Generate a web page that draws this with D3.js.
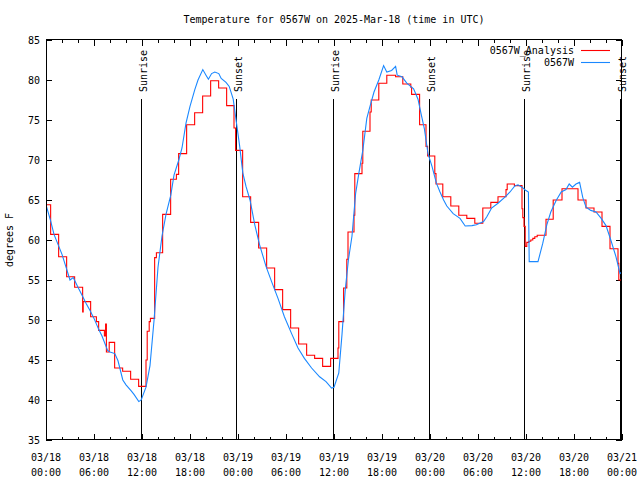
<!DOCTYPE html>
<html>
<head>
<meta charset="utf-8">
<script src="https://cdn.jsdelivr.net/npm/d3@7"></script>
<style>
  html, body { margin: 0; padding: 0; background: #fff; }
  svg { display: block; }
  text { font-family: "DejaVu Sans Mono", "Liberation Mono", monospace; font-size: 10px; fill: #000; }
</style>
</head>
<body>
<script>
// ---- DATA (time = hours since 2025-03-18 00:00 UTC) ----
const titleText = "Temperature for 0567W on 2025-Mar-18 (time in UTC)";
const yLabel = "degrees F";
const seriesNames = ["0567W_Analysis", "0567W"];

const xTickDates = ["03/18","03/18","03/18","03/18","03/19","03/19","03/19","03/19","03/20","03/20","03/20","03/20","03/21"];
const xTickTimes = ["00:00","06:00","12:00","18:00","00:00","06:00","12:00","18:00","00:00","06:00","12:00","18:00","00:00"];
const xTickHours = [0,6,12,18,24,30,36,42,48,54,60,66,72];
const xMinorHours = d3.range(0, 73, 2);
const yTicks = [35,40,45,50,55,60,65,70,75,80,85];

const sunTimes = [11.93, 23.8, 35.83, 47.83, 59.7, 71.8];
const sunLabels = ["Sunrise","Sunset","Sunrise","Sunset","Sunrise","Sunset"];

// Analysis (stepped)
const redT = [0,0.58,1.58,2.58,3.58,4.58,4.65,5.58,6.3,6.58,7.3,7.45,7.55,7.9,8.58,9.58,10.58,11.58,12.5,12.65,12.9,13.05,13.58,13.8,14.58,15.58,16.3,16.58,17.58,18.58,19.58,20.58,21.58,22.58,23.5,23.7,24.58,25.58,26.58,27.58,28.58,29.58,30.58,31.58,32.58,33.58,34.58,35.58,36.5,36.6,37.2,37.6,37.75,38.5,38.6,39.5,39.6,40.5,40.65,41.6,42.6,43.7,44.6,45.6,45.7,46.7,47.5,47.7,48.6,48.75,49.6,50.6,51.6,52.6,53.6,54.6,55.6,56.5,57.5,57.65,58.55,59.5,59.6,59.75,59.9,60.1,60.35,60.6,60.85,61.1,61.4,62.5,63.4,64.5,66.5,67.5,68.5,69.5,70.5,71.5,71.6,72];
const redV = [64.4,60.7,57.9,55.4,54.1,51.0,52.3,50.4,49.8,48.7,48.0,49.5,46.0,47.2,44.0,43.6,42.6,41.7,45.0,48.6,49.8,50.2,57.8,58.4,63.2,67.6,68.2,70.8,74.4,75.9,78.0,79.9,79.0,76.8,74.0,71.2,65.4,62.2,59.0,56.5,53.8,51.3,49.0,47.0,45.6,45.2,44.2,45.2,46.5,49.8,54.0,57.6,61.0,63.1,68.3,69.6,73.6,76.0,77.5,79.6,80.6,80.4,79.5,79.1,78.2,74.4,71.7,70.5,68.3,67.0,65.4,64.25,63.1,62.7,62.1,64.0,64.7,65.4,66.3,67.0,66.8,63.9,62.8,61.7,59.2,59.7,59.85,60.0,60.2,60.4,60.6,62.6,65.0,66.4,65.0,64.0,63.5,61.7,58.9,57.1,55.0,55.0];

// Observations
const blueT = [0,0.58,1.0,1.4,2.0,2.5,3.0,3.4,3.6,4.0,4.6,5.0,5.5,6.0,6.6,7.0,7.7,8.0,8.6,9.0,9.6,10.0,10.6,11.0,11.6,11.9,12.5,13.0,13.5,14.0,14.5,15.0,15.6,16.0,16.6,17.0,17.5,18.0,18.6,19.0,19.6,20.0,20.3,20.7,21.1,21.6,21.9,22.5,22.9,23.4,23.8,24.2,24.6,25.0,25.5,26.1,26.7,27.5,28.2,29.0,29.8,30.7,31.5,32.3,33.2,34.2,35.0,35.7,36.0,36.6,37.0,37.4,37.8,38.25,38.7,39.1,39.6,40.1,40.5,41.0,41.6,42.2,42.6,43.2,43.7,43.9,44.5,45.1,45.95,46.5,46.9,47.3,47.75,48.25,48.8,49.25,49.7,50.1,50.9,51.75,52.4,53.25,53.8,54.7,55.1,55.7,56.5,57.4,58.0,58.6,59.0,59.5,59.9,60.3,60.4,61.5,62.1,62.6,63.1,63.75,64.4,65.0,65.4,65.8,66.25,66.7,67.1,67.5,68.1,68.75,69.4,70.0,70.6,71.25,71.75,72];
const blueV = [64.4,62.4,60.7,59.7,58.2,56.6,55.0,55.3,54.9,54.1,52.9,52.1,51.2,50.2,48.8,48.0,46.2,46.0,45.8,44.9,42.5,41.9,41.2,40.7,39.8,40.0,41.6,44.3,49.9,56.6,60.5,63.2,65.6,68.1,70.0,71.5,74.6,76.7,78.8,80.0,81.3,80.6,80.1,80.8,81.0,80.8,80.2,79.7,79.2,77.6,74.7,71.8,68.4,66.7,65.0,61.9,59.4,56.7,54.8,52.7,50.4,48.3,46.5,45.2,44.0,42.9,42.3,41.5,41.6,43.4,48.2,53.7,57.5,60.5,65.8,68.3,71.2,75.2,76.7,78.5,80.0,81.8,81.0,81.2,81.7,80.6,80.4,79.6,78.9,77.6,75.7,73.9,70.8,69.2,67.1,66.0,65.0,64.25,63.3,62.7,61.75,61.8,61.9,62.3,62.9,64.0,64.6,65.4,66.0,66.75,66.9,66.6,66.25,66.0,57.3,57.3,59.6,61.9,63.5,64.9,66.0,66.3,67.0,66.6,67.0,67.2,65.3,64.1,63.7,63.5,62.7,61.8,60.0,57.9,55.8,56.0];

// ---- CHART ----
const W = 640, H = 480;
const L = 46, R = 622, T = 40, B = 440;
const svg = d3.select("body").append("svg").attr("width", W).attr("height", H);

const x = d3.scaleLinear().domain([0, 72]).range([L, R]);
const y = d3.scaleLinear().domain([35, 85]).range([B, T]);

// title
svg.append("text").attr("x", 334).attr("y", 23).attr("text-anchor", "middle").text(titleText);
// y label
svg.append("text").attr("transform", "translate(13,240) rotate(-90)").attr("text-anchor", "middle").text(yLabel);

// axes ticks
function styleAxis(g) { g.select(".domain").remove(); g.selectAll("line").attr("stroke", "#000"); g.selectAll("text").remove(); }
svg.append("g").attr("transform", `translate(0,${B})`).call(d3.axisBottom(x).tickValues(xMinorHours).tickSize(-3)).call(styleAxis);
svg.append("g").attr("transform", `translate(0,${B})`).call(d3.axisBottom(x).tickValues(xTickHours).tickSize(-6)).call(styleAxis);
svg.append("g").attr("transform", `translate(0,${T})`).call(d3.axisTop(x).tickValues(xMinorHours).tickSize(-3)).call(styleAxis);
svg.append("g").attr("transform", `translate(0,${T})`).call(d3.axisTop(x).tickValues(xTickHours).tickSize(-6)).call(styleAxis);
svg.append("g").attr("transform", `translate(${R},0)`).call(d3.axisRight(y).tickValues(yTicks).tickSize(-6)).call(styleAxis);

const gy = svg.append("g").attr("transform", `translate(${L},0)`)
  .call(d3.axisLeft(y).tickValues(yTicks).tickSize(-6).tickPadding(6).tickFormat(d3.format("d")));
gy.select(".domain").remove();
gy.selectAll("line").attr("stroke", "#000");
gy.selectAll("text").attr("font-family", "DejaVu Sans Mono").attr("font-size", 10).attr("fill", "#000");

// x labels (two lines)
const xl = svg.append("g").selectAll("text").data(xTickHours).join("text")
  .attr("text-anchor", "middle")
  .attr("x", d => x(d));
xl.append("tspan").attr("x", d => x(d)).attr("y", 461).text((d, i) => xTickDates[i]);
xl.append("tspan").attr("x", d => x(d)).attr("y", 476).text((d, i) => xTickTimes[i]);

// sunrise / sunset lines
const sg = svg.append("g");
sg.selectAll("line").data(sunTimes).join("line")
  .attr("x1", d => Math.round(x(d)) + 0.5).attr("x2", d => Math.round(x(d)) + 0.5)
  .attr("y1", 99).attr("y2", B).attr("stroke", "#000").attr("stroke-width", 1);
sg.selectAll("text").data(sunTimes).join("text")
  .attr("transform", d => `translate(${Math.round(x(d)) + 5.5},92) rotate(-90)`)
  .attr("text-anchor", "start")
  .text((d, i) => sunLabels[i]);

// series
const clip = svg.append("clipPath").attr("id", "clip").append("rect")
  .attr("x", L).attr("y", T).attr("width", R - L).attr("height", B - T);

const redPts = redT.map((t, i) => [t, redV[i]]);
const bluePts = blueT.map((t, i) => [t, blueV[i]]);

svg.append("path").datum(redPts)
  .attr("clip-path", "url(#clip)")
  .attr("fill", "none").attr("stroke", "#ff0000").attr("stroke-width", 1.1)
  .attr("d", d3.line().x(d => x(d[0])).y(d => y(d[1])).curve(d3.curveStepAfter));

svg.append("path").datum(bluePts)
  .attr("clip-path", "url(#clip)")
  .attr("fill", "none").attr("stroke", "#1a88ff").attr("stroke-width", 1.1)
  .attr("d", d3.line().x(d => x(d[0])).y(d => y(d[1])));

// frame
svg.append("rect").attr("x", L + 0.5).attr("y", T - 0.5).attr("width", R - L - 1).attr("height", B - T)
  .attr("fill", "none").attr("stroke", "#000").attr("stroke-width", 1);

// legend
const legend = svg.append("g");
const colors = ["#ff0000", "#1a88ff"];
seriesNames.forEach((name, i) => {
  const yy = 50 + i * 12;
  legend.append("text").attr("x", 574).attr("y", yy + 3.5).attr("text-anchor", "end").text(name);
  legend.append("line").attr("x1", 581).attr("x2", 610).attr("y1", yy + 0.5).attr("y2", yy + 0.5)
    .attr("stroke", colors[i]).attr("stroke-width", 1.1);
});
</script>
</body>
</html>
